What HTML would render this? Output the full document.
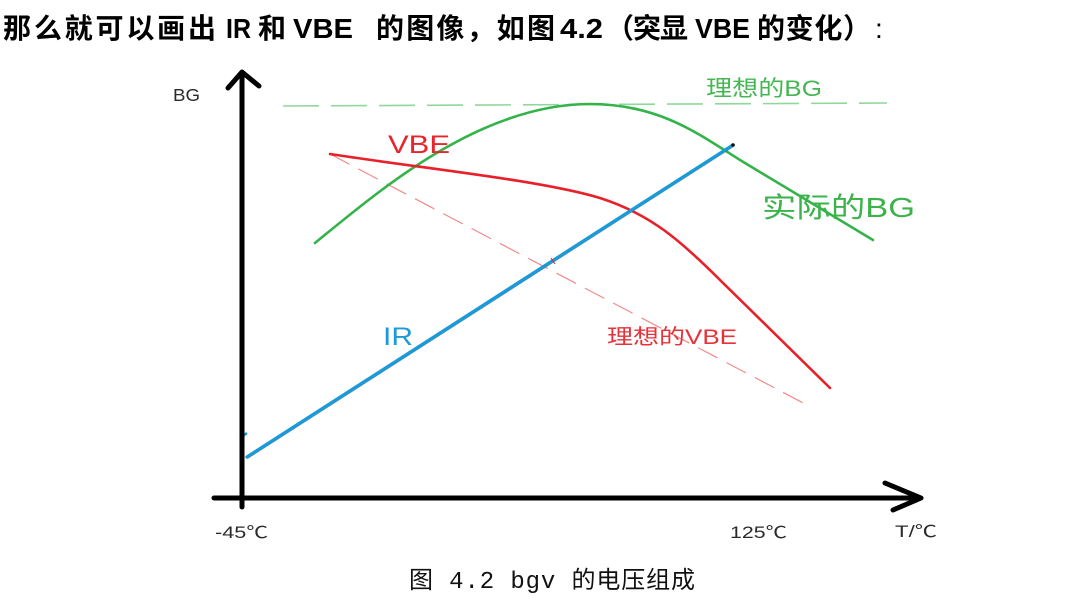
<!DOCTYPE html>
<html>
<head>
<meta charset="utf-8">
<style>
  html, body { margin: 0; padding: 0; background: #ffffff; }
  body { width: 1080px; height: 599px; overflow: hidden; position: relative; }
  svg { position: absolute; left: 0; top: 0; }
  .t { font-family: "Liberation Sans", "Noto Sans CJK SC", sans-serif; }
</style>
</head>
<body>
<svg width="1080" height="599" viewBox="0 0 1080 599" xmlns="http://www.w3.org/2000/svg">
  <!-- Title -->
  <g class="t" font-size="28" font-weight="bold" fill="#000">
    <text x="3" y="38" textLength="213" lengthAdjust="spacing">那么就可以画出</text>
    <text x="226" y="38" textLength="25" lengthAdjust="spacingAndGlyphs">IR</text>
    <text x="258" y="38">和</text>
    <text x="293" y="38" textLength="60" lengthAdjust="spacingAndGlyphs">VBE</text>
    <text x="376" y="38" textLength="179" lengthAdjust="spacing">的图像，如图</text>
    <text x="560" y="38" textLength="43" lengthAdjust="spacingAndGlyphs">4.2</text>
    <text x="606" y="38" textLength="82" lengthAdjust="spacing">（突显</text>
    <text x="695" y="38" textLength="55" lengthAdjust="spacingAndGlyphs">VBE</text>
    <text x="757" y="38" textLength="114" lengthAdjust="spacing">的变化）</text>
    <text x="875" y="38" font-weight="normal">:</text>
  </g>

  <!-- ideal BG dashed (green) -->
  <path d="M283,106 L887,103" stroke="#8fd79b" stroke-width="1.6" fill="none" stroke-dasharray="36 12"/>
  <!-- ideal VBE dashed (red) -->
  <path d="M330,154 L807,405" stroke="#f28a8a" stroke-width="1.2" fill="none" stroke-dasharray="22 10"/>

  <!-- actual BG (green) -->
  <path d="M315,243 C380,190 480,104 590,104 C660,104 700,135 740,160 L873,240" stroke="#34b34a" stroke-width="2.6" fill="none" stroke-linecap="round"/>

  <!-- VBE (red) -->
  <path d="M330,154 C420,168 540,180 600,198 C650,214 680,240 720,280 L830,388" stroke="#e8202a" stroke-width="2.6" fill="none" stroke-linecap="round"/>

  <!-- IR (blue) -->
  <path d="M247,458.2 L733,146.2" stroke="#1a3a55" stroke-width="2" fill="none" opacity="0.6"/>
  <path d="M247,457 L733,145" stroke="#1b9ad8" stroke-width="3.4" fill="none" stroke-linecap="round"/>
  <circle cx="733" cy="145" r="1.8" fill="#111"/>
  <path d="M240,438 L247,433" stroke="#1b9ad8" stroke-width="2.5" fill="none"/>
  <path d="M551,258 L555,264" stroke="#e8202a" stroke-width="1" fill="none"/>

  <!-- Axes -->
  <g stroke="#000" stroke-width="5" fill="none" stroke-linecap="round" stroke-linejoin="round">
    <line x1="242" y1="73" x2="242" y2="507"/>
    <polyline points="228,88 242,72 259,86"/>
    <line x1="214" y1="498" x2="920" y2="498"/>
    <polyline points="885,483 921,498 893,510"/>
  </g>

  <!-- Axis labels -->
  <g class="t" font-size="16.5" fill="#2a2a2a">
    <text x="173" y="101" textLength="27" lengthAdjust="spacingAndGlyphs" font-size="17.5">BG</text>
    <text x="215" y="538" textLength="53" lengthAdjust="spacingAndGlyphs">-45℃</text>
    <text x="730" y="538" textLength="57" lengthAdjust="spacingAndGlyphs">125℃</text>
    <text x="895" y="537" textLength="42" lengthAdjust="spacingAndGlyphs">T/℃</text>
  </g>

  <!-- Series labels -->
  <g class="t">
    <text x="388" y="153" font-size="25" fill="#e8232a" textLength="62" lengthAdjust="spacingAndGlyphs">VBE</text>
    <text x="706" y="96" font-size="22" fill="#45b752" textLength="116" lengthAdjust="spacingAndGlyphs">理想的BG</text>
    <text x="762" y="217" font-size="28" fill="#3cb34a" textLength="153" lengthAdjust="spacingAndGlyphs">实际的BG</text>
    <text x="607" y="344" font-size="21" fill="#e8323a" textLength="130" lengthAdjust="spacingAndGlyphs">理想的VBE</text>
    <text x="383" y="345" font-size="25" fill="#1e9ad6" textLength="30" lengthAdjust="spacingAndGlyphs">IR</text>
  </g>

  <!-- Caption -->
  <text x="409" y="588" font-family="'Liberation Mono', 'Noto Sans CJK SC', monospace" font-size="24" fill="#111" textLength="286" lengthAdjust="spacing">图 4.2 bgv 的电压组成</text>
</svg>
</body>
</html>
